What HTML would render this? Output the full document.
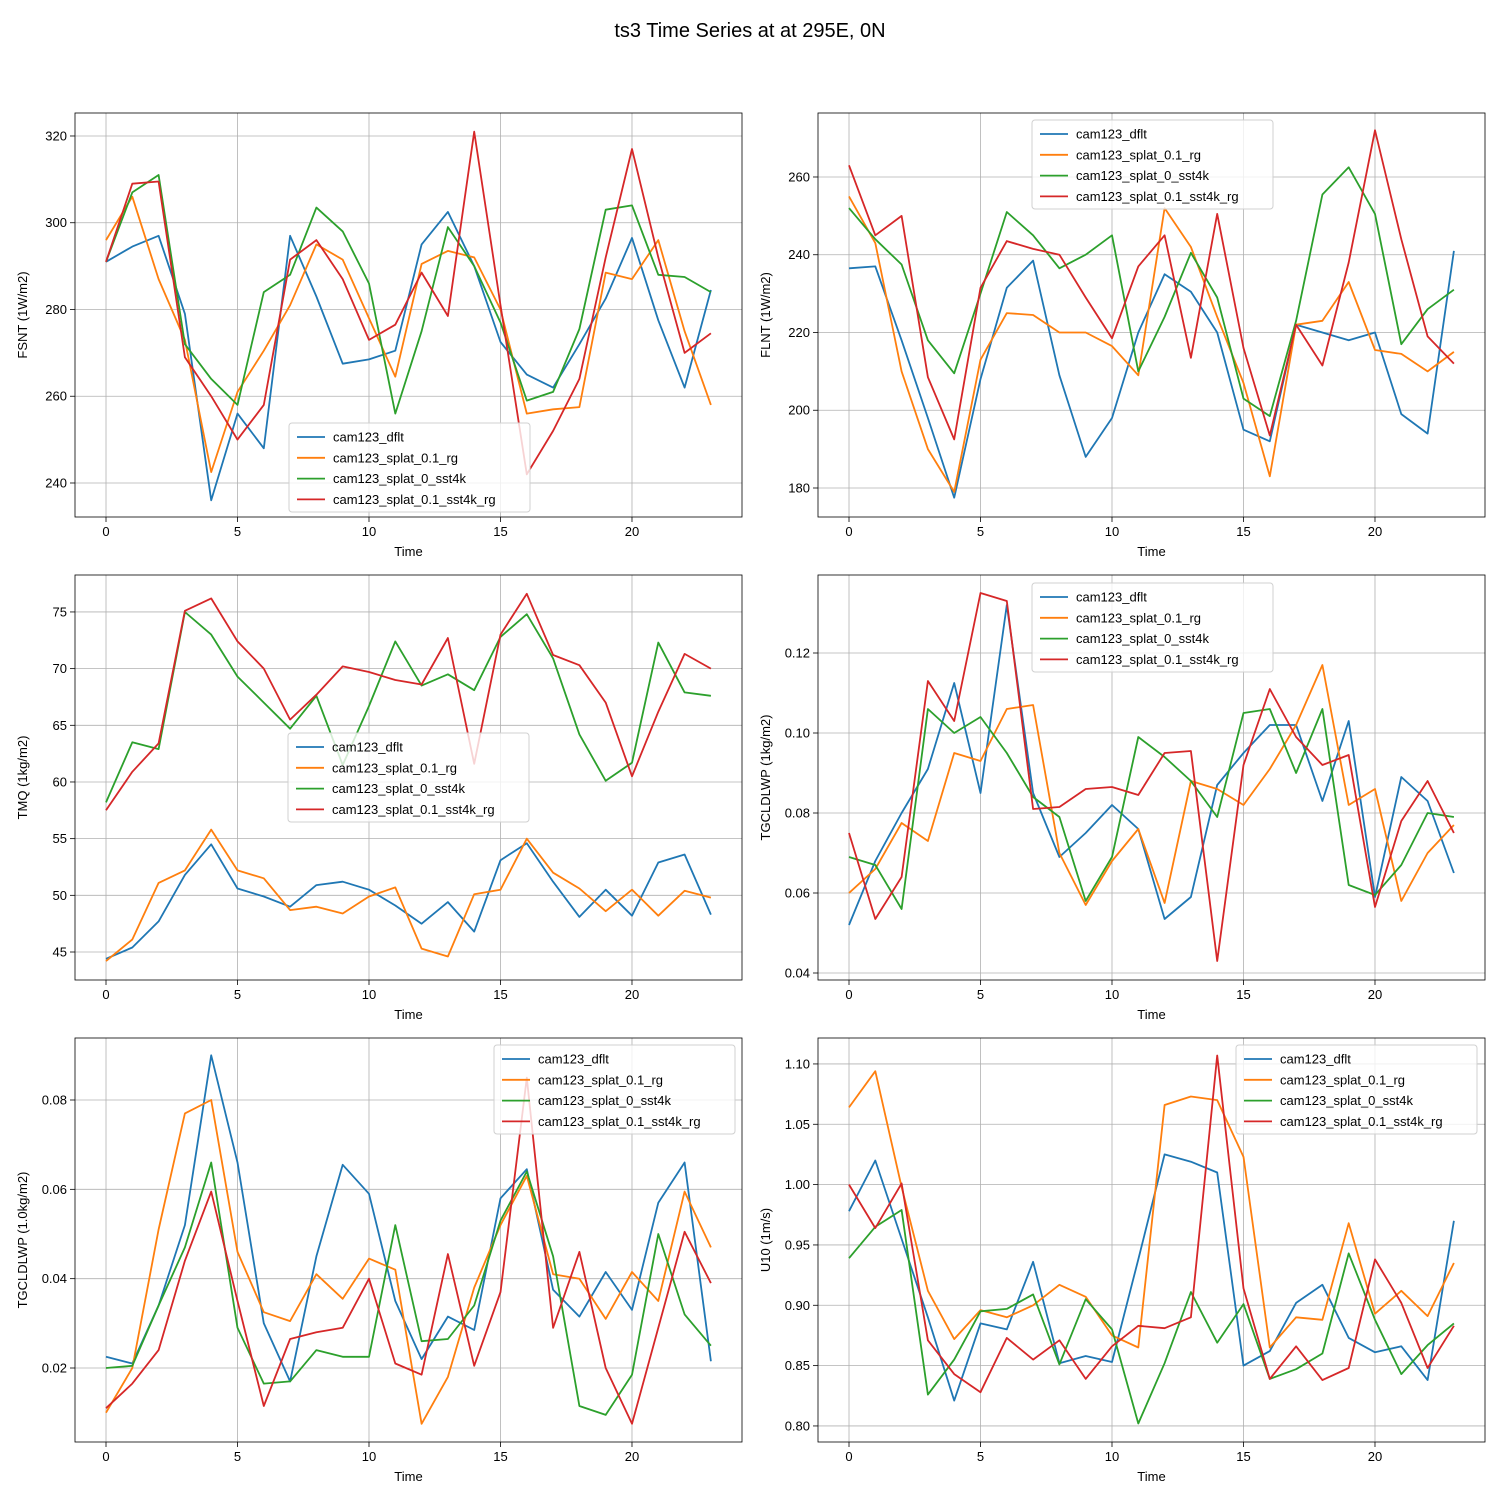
<!DOCTYPE html>
<html><head><meta charset="utf-8">
<style>
body{margin:0;background:#fff;}
svg{display:block;font-family:"Liberation Sans","DejaVu Sans",sans-serif;}
</style></head>
<body>
<svg id="chart" width="1500" height="1500" viewBox="0 0 1500 1500" xmlns="http://www.w3.org/2000/svg">
<rect width="1500" height="1500" fill="#fff"/>
<text x="750" y="37" text-anchor="middle" font-size="20">ts3 Time Series at at 295E, 0N</text>
</svg>
<script>
const seriesNames = ["cam123_dflt","cam123_splat_0.1_rg","cam123_splat_0_sst4k","cam123_splat_0.1_sst4k_rg"];
const colors = ["#1f77b4","#ff7f0e","#2ca02c","#d62728"];
const times = [0,1,2,3,4,5,6,7,8,9,10,11,12,13,14,15,16,17,18,19,20,21,22,23];
const xTicks = [0,5,10,15,20];

const fsntDflt = [291,294.5,297,279,236,256,248,297,283,267.5,268.5,270.5,295,302.5,290,272.5,265,262,272,282.5,296.5,277.5,262,284.5];
const fsntRg = [296,306,287,273,242.5,261,270.5,281,295,291.5,278,264.5,290.5,293.5,292,280,256,257,257.5,288.5,287,296,275,258];
const fsntSst = [291,307,311,272,264,258,284,288,303.5,298,286,256,275,299,290,277,259,261,275.5,303,304,288,287.5,284];
const fsntSstRg = [291,309,309.5,269,260,250,258,291.5,296,287,273,276.5,288.5,278.5,321,281,242,252,264,292,317,292,270,274.5];

const flntDflt = [236.5,237,218,198,177.5,208,231.5,238.5,209,188,198,220,235,230.5,220,195,192,222,220,218,220,199,194,241];
const flntRg = [255,243,210,190,179,213,225,224.5,220,220,216.5,209,252,242,224,207,183,222,223,233,215.5,214.5,210,215];
const flntSst = [252,244,237.5,218,209.5,230,251,245,236.5,240,245,210,224,240.5,229,203,198.5,223,255.5,262.5,250.5,217,226,231];
const flntSstRg = [263,245,250,208.5,192.5,231.5,243.5,241.5,240,229,218.5,237,245,213.5,250.5,216,193.5,222,211.5,238,272,244,219,212];

const tmqDflt = [44.4,45.4,47.7,51.8,54.5,50.6,49.9,49,50.9,51.2,50.5,49.1,47.5,49.4,46.8,53.1,54.6,51.2,48.1,50.5,48.2,52.9,53.6,48.3];
const tmqRg = [44.2,46.1,51.1,52.2,55.8,52.2,51.5,48.7,49,48.4,49.9,50.7,45.3,44.6,50.1,50.5,55,52,50.6,48.6,50.5,48.2,50.4,49.8];
const tmqSst = [58.2,63.5,62.9,75,73,69.3,67,64.7,67.6,61.5,66.7,72.4,68.5,69.5,68.1,72.8,74.8,70.9,64.2,60.1,61.7,72.3,67.9,67.6];
const tmqSstRg = [57.5,60.9,63.4,75.1,76.2,72.4,70,65.5,67.7,70.2,69.7,69,68.6,72.7,61.6,73,76.6,71.2,70.3,67,60.5,66.2,71.3,70];

const lwp1Dflt = [.052,.068,.080,.091,.1125,.085,.132,.085,.069,.075,.082,.076,.0535,.059,.087,.095,.102,.102,.083,.103,.059,.089,.083,.065];
const lwp1Rg = [.060,.066,.0775,.073,.095,.093,.106,.107,.070,.057,.068,.076,.0575,.088,.086,.082,.091,.102,.117,.082,.086,.058,.070,.077];
const lwp1Sst = [.069,.067,.056,.106,.100,.104,.095,.084,.079,.058,.069,.099,.094,.088,.079,.105,.106,.090,.106,.062,.0595,.067,.080,.079];
const lwp1SstRg = [.075,.0535,.064,.113,.103,.135,.133,.081,.0815,.086,.0865,.0845,.095,.0955,.043,.092,.111,.099,.092,.0945,.0565,.078,.088,.075];

const lwp2Dflt = [.0225,.021,.034,.052,.090,.066,.030,.017,.045,.0655,.059,.035,.022,.0315,.0285,.058,.0645,.0375,.0315,.0415,.033,.057,.066,.0215];
const lwp2Rg = [.010,.020,.051,.077,.080,.046,.0325,.0305,.041,.0355,.0445,.042,.0075,.018,.038,.052,.063,.041,.040,.031,.0415,.035,.0595,.047];
const lwp2Sst = [.020,.0205,.034,.047,.066,.029,.0165,.017,.024,.0225,.0225,.052,.026,.0265,.034,.053,.064,.045,.0115,.0095,.0185,.050,.032,.025];
const lwp2SstRg = [.011,.0165,.024,.044,.0595,.035,.0115,.0265,.028,.029,.040,.021,.0185,.0455,.0205,.037,.085,.029,.046,.020,.0075,.029,.0505,.039];

const u10Dflt = [.978,1.02,.955,.89,.821,.885,.880,.936,.852,.858,.853,.938,1.025,1.019,1.01,.850,.862,.902,.917,.873,.861,.866,.838,.970];
const u10Rg = [1.064,1.094,.998,.912,.872,.896,.890,.900,.917,.907,.875,.865,1.066,1.073,1.070,1.023,.865,.890,.888,.968,.893,.912,.891,.935];
const u10Sst = [.939,.965,.979,.826,.855,.895,.897,.909,.851,.905,.880,.802,.852,.911,.869,.901,.839,.847,.860,.943,.888,.843,.867,.885];
const u10SstRg = [1.000,.964,1.001,.871,.843,.828,.873,.855,.871,.839,.866,.883,.881,.890,1.107,.914,.839,.866,.838,.848,.938,.902,.848,.883];

const fsntTicks = [240,260,280,300,320];
const flntTicks = [180,200,220,240,260];
const tmqTicks = [45,50,55,60,65,70,75];
const lwp1Ticks = [0.04,0.06,0.08,0.10,0.12];
const lwp2Ticks = [0.02,0.04,0.06,0.08];
const u10Ticks = [0.80,0.85,0.90,0.95,1.00,1.05,1.10];

const NS="http://www.w3.org/2000/svg";
const svg=document.getElementById('chart');
function mk(tag,attrs,parent){const e=document.createElementNS(NS,tag);for(const k in attrs)e.setAttribute(k,attrs[k]);parent.appendChild(e);return e;}

const panels=[
 {id:"fsnt",label:"FSNT (1W/m2)",x0:75,x1:742,y0:113,y1:517,ymin:232.16,ymax:325.3,ticks:fsntTicks,dec:0,series:[fsntDflt,fsntRg,fsntSst,fsntSstRg],leg:[289,423]},
 {id:"flnt",label:"FLNT (1W/m2)",x0:818,x1:1485,y0:113,y1:517,ymin:172.54,ymax:276.46,ticks:flntTicks,dec:0,series:[flntDflt,flntRg,flntSst,flntSstRg],leg:[1032,120]},
 {id:"tmq",label:"TMQ (1kg/m2)",x0:75,x1:742,y0:575,y1:980,ymin:42.53,ymax:78.26,ticks:tmqTicks,dec:0,series:[tmqDflt,tmqRg,tmqSst,tmqSstRg],leg:[288,733]},
 {id:"tgcldlwp-1",label:"TGCLDLWP (1kg/m2)",x0:818,x1:1485,y0:575,y1:980,ymin:0.03825,ymax:0.1395,ticks:lwp1Ticks,dec:2,series:[lwp1Dflt,lwp1Rg,lwp1Sst,lwp1SstRg],leg:[1032,583]},
 {id:"tgcldlwp-2",label:"TGCLDLWP (1.0kg/m2)",x0:75,x1:742,y0:1038,y1:1442,ymin:0.003434,ymax:0.09388,ticks:lwp2Ticks,dec:2,series:[lwp2Dflt,lwp2Rg,lwp2Sst,lwp2SstRg],leg:[494,1045]},
 {id:"u10",label:"U10 (1m/s)",x0:818,x1:1485,y0:1038,y1:1442,ymin:0.7867,ymax:1.1215,ticks:u10Ticks,dec:2,series:[u10Dflt,u10Rg,u10Sst,u10SstRg],leg:[1236,1045]}
];
const XMIN=-1.179,XMAX=24.183;

panels.forEach(p=>{
 const g=mk('g',{},svg);
 
 
 const sx=v=>p.x0+(v-XMIN)/(XMAX-XMIN)*(p.x1-p.x0);
 const sy=v=>p.y1-(v-p.ymin)/(p.ymax-p.ymin)*(p.y1-p.y0);
 xTicks.forEach(t=>{
  const x=sx(t);
  const gl=mk('line',{x1:x,x2:x,y1:p.y0,y2:p.y1,stroke:"#b0b0b0","stroke-width":0.8},g);
  
  
  mk('line',{x1:x,x2:x,y1:p.y1,y2:p.y1+5,stroke:"#000","stroke-width":0.8},g);
  const tl=mk('text',{x:x,y:p.y1+19,"text-anchor":"middle","font-size":13},g);
  tl.textContent=t;
  
  
 });
 p.ticks.forEach(t=>{
  const y=sy(t);
  const gl=mk('line',{x1:p.x0,x2:p.x1,y1:y,y2:y,stroke:"#b0b0b0","stroke-width":0.8},g);
  
  
  mk('line',{x1:p.x0-5,x2:p.x0,y1:y,y2:y,stroke:"#000","stroke-width":0.8},g);
  const tl=mk('text',{x:p.x0-8,y:y+4.5,"text-anchor":"end","font-size":13},g);
  tl.textContent=t.toFixed(p.dec);
  
  
 });
 p.series.forEach((s,i)=>{
  const pts=s.map((v,k)=>sx(times[k]).toFixed(1)+","+sy(v).toFixed(1)).join(" ");
  const pl=mk('polyline',{points:pts,fill:"none",stroke:colors[i],"stroke-width":1.8,"stroke-linejoin":"round"},g);
  
  
 });
 const fr=mk('rect',{x:p.x0,y:p.y0,width:p.x1-p.x0,height:p.y1-p.y0,fill:"none",stroke:"#000","stroke-width":0.8},g);
 
 
 const xl=mk('text',{x:(p.x0+p.x1)/2,y:p.y1+39,"text-anchor":"middle","font-size":13},g);
 xl.textContent="Time";
 
 
 const cx=p.x0-48, cy=(p.y0+p.y1)/2;
 const yl=mk('text',{x:cx,y:cy,"text-anchor":"middle","font-size":13,transform:`rotate(-90 ${cx} ${cy})`},g);
 yl.textContent=p.label;
 
 
 // legend
 const lg=mk('g',{},g);
 
 
 const [lx,ly]=p.leg;
 mk('rect',{x:lx,y:ly,width:241,height:89,rx:3,fill:"#fff","fill-opacity":0.8,stroke:"#d0d0d0","stroke-width":1},lg);
 seriesNames.forEach((n,i)=>{
  const yy=ly+14+i*20.8;
  const e=mk('g',{},lg);
  
  
  mk('line',{x1:lx+8,x2:lx+36,y1:yy,y2:yy,stroke:colors[i],"stroke-width":1.8},e);
  const t=mk('text',{x:lx+44,y:yy+4.5,"font-size":13},e);
  t.textContent=n;
 });
});
</script>
</body></html>
